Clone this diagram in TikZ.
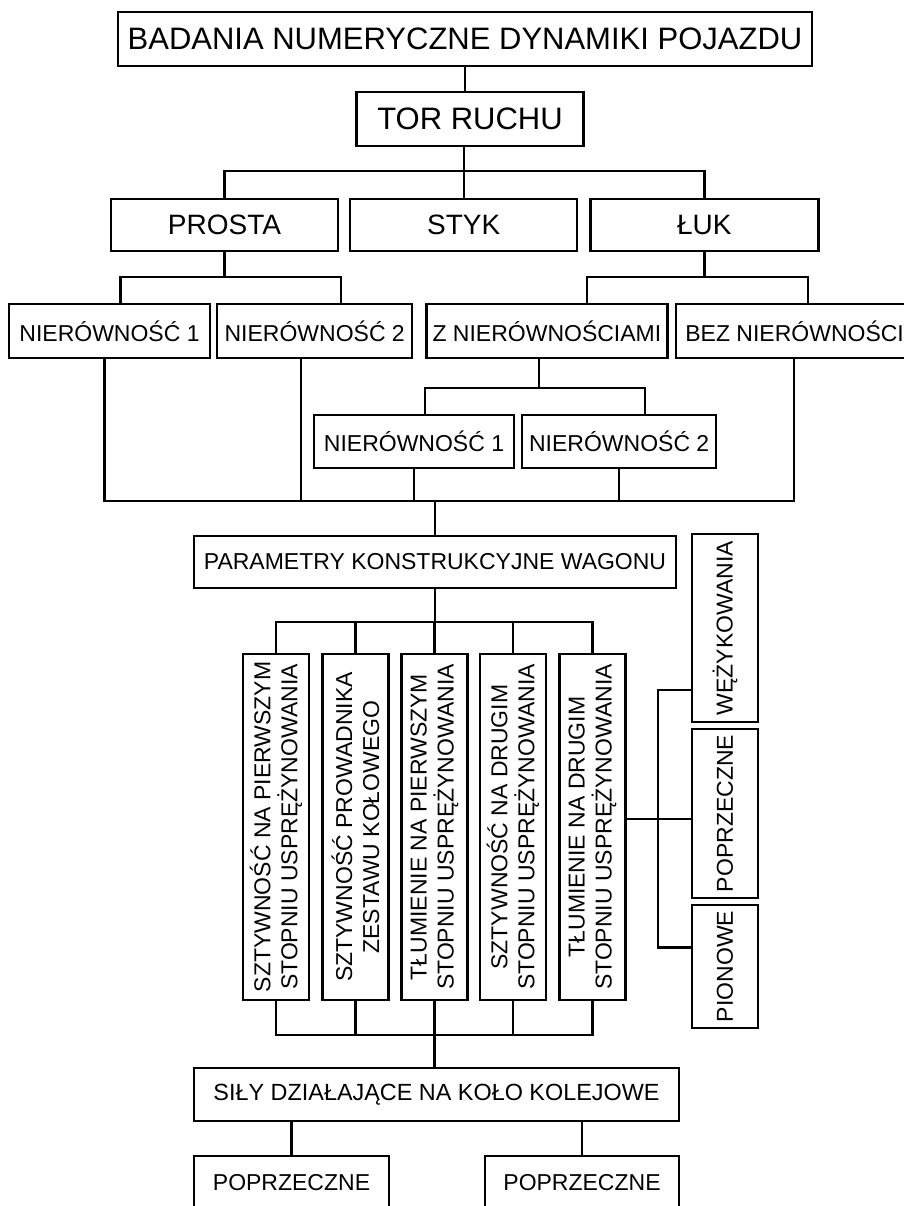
\documentclass[tikz,border=0pt]{standalone}
\usepackage{fontspec}
\setmainfont{Liberation Sans}
\usetikzlibrary{positioning}

\begin{document}
\begin{tikzpicture}[x = 1pt, y = -1pt, line width = 2.2pt,
		box/.style = {draw, rectangle, inner sep = 0pt, minimum height = 53pt, font = \fontsize{23}{27}\selectfont},
		big/.style = {box, minimum height = 54pt, font = \fontsize{31}{36}\selectfont},
		mid/.style = {box, minimum height = 52pt, font = \fontsize{28}{33}\selectfont},
		vbox/.style = {box, rotate = 90, align = center, minimum width = 346pt, minimum height = 66pt},
		side/.style = {box, rotate = 90, minimum height = 66pt}]
	\useasboundingbox (0,0) rectangle (903,1206);
	\node[big, minimum width = 694pt] at (465,39) (top) {BADANIA NUMERYCZNE DYNAMIKI POJAZDU};
	\node[big, minimum width = 227pt] at (470,119) (tor) {TOR RUCHU};
	\node[mid, minimum width = 227pt] at (224.5,225) (prosta) {PROSTA};
	\node[mid, minimum width = 227pt, right = 10pt of prosta] (styk) {STYK};
	\node[mid, minimum width = 228pt, right = 11pt of styk] (luk) {ŁUK};
	\node[box, minimum width = 201pt, minimum height = 54pt] at (109.5,331) (n1) {NIERÓWNOŚĆ 1};
	\node[box, minimum width = 195pt, minimum height = 54pt, right = 5pt of n1] (n2) {NIERÓWNOŚĆ 2};
	\node[box, minimum width = 241pt, minimum height = 54pt, right = 12pt of n2] (zn) {Z NIERÓWNOŚCIAMI};
	\node[box, minimum width = 238pt, minimum height = 54pt, right = 6pt of zn] (bez) {BEZ NIERÓWNOŚCI};
	\node[box, minimum width = 200pt] at (414,441.5) (m1) {NIERÓWNOŚĆ 1};
	\node[box, minimum width = 194pt, right = 6pt of m1] (m2) {NIERÓWNOŚĆ 2};
	\node[box, minimum width = 482pt, minimum height = 52pt] at (435,562) (param) {PARAMETRY KONSTRUKCYJNE WAGONU};
	\node[vbox] at (276,827) (v1) {SZTYWNOŚĆ NA PIERWSZYM\\STOPNIU USPRĘŻYNOWANIA};
	\node[vbox] at (355.5,827) (v2) {SZTYWNOŚĆ PROWADNIKA\\ZESTAWU KOŁOWEGO};
	\node[vbox] at (434.5,827) (v3) {TŁUMIENIE NA PIERWSZYM\\STOPNIU USPRĘŻYNOWANIA};
	\node[vbox] at (513,827) (v4) {SZTYWNOŚĆ NA DRUGIM\\STOPNIU USPRĘŻYNOWANIA};
	\node[vbox] at (592.5,827) (v5) {TŁUMIENIE NA DRUGIM\\STOPNIU USPRĘŻYNOWANIA};
	\node[side, minimum width = 188pt] at (725,628) (wez) {WĘŻYKOWANIA};
	\node[side, minimum width = 169pt] at (725,813.5) (pop3) {POPRZECZNE};
	\node[side, minimum width = 123pt] at (725,966.5) (pio) {PIONOWE};
	\node[box, minimum width = 485pt, font = \fontsize{23.4}{28}\selectfont] at (436.5,1094.5) (sily) {SIŁY DZIAŁAJĄCE NA KOŁO KOLEJOWE};
	\node[box, minimum width = 195pt, minimum height = 54pt] at (291.5,1183) (pop1) {POPRZECZNE};
	\node[box, minimum width = 194pt, minimum height = 54pt] at (582,1183) (pop2) {POPRZECZNE};
	\draw (top.south) -- (top.south |- tor.north);
	\draw (styk.north) -- (styk.north |- tor.south);
	\draw (prosta.north) -- ++(0,-27) -| (luk.north);
	\draw (prosta.south) -- ++(0,25) coordinate (p1);
	\draw ([xshift = 11pt]n1.north) |- (p1) -| ([xshift = 26pt]n2.north);
	\draw (luk.south) -- ++(0,25) coordinate (l1);
	\draw ([xshift = 40pt]zn.north) |- (l1) -| ([xshift = 13pt]bez.north);
	\draw ([xshift = -8pt]zn.south) -- ++(0,29) coordinate (z1);
	\draw ([xshift = 11pt]m1.north) |- (z1) -| ([xshift = 26pt]m2.north);
	\coordinate (b1) at (435,501);
	\draw ([xshift = -5pt]n1.south) |- (b1) -| ([xshift = -1pt]bez.south);
	\draw ([xshift = -14pt]n2.south) -- ([xshift = -14pt]n2.south |- b1);
	\draw (m1.south) -- (m1.south |- b1);
	\draw (m2.south) -- (m2.south |- b1);
	\draw (b1) -- (param.north);
	\draw (param.south) -- ++(0,33) coordinate (c1);
	\draw (v1.east) |- (c1) -| (v5.east);
	\draw (v2.east) -- (v2.east |- c1);
	\draw (v3.east) -- (v3.east |- c1);
	\draw (v4.east) -- (v4.east |- c1);
	\coordinate (c2) at (434.5,1035);
	\draw (v1.west) |- (c2) -| (v5.west);
	\draw (v2.west) -- (v2.west |- c2);
	\draw (v4.west) -- (v4.west |- c2);
	\draw (v3.west) -- (v3.west |- sily.north);
	\draw (pop1.north) -- (pop1.north |- sily.south);
	\draw (pop2.north) -- (pop2.north |- sily.south);
	\draw ([yshift = 8pt]v5.south) -- ([yshift = 8pt]v5.south -| pop3.north);
	\draw ([yshift = -62pt]wez.north) -- ++(-33,0) |- ([yshift = 19pt]pio.north);
\end{tikzpicture}
\end{document}
